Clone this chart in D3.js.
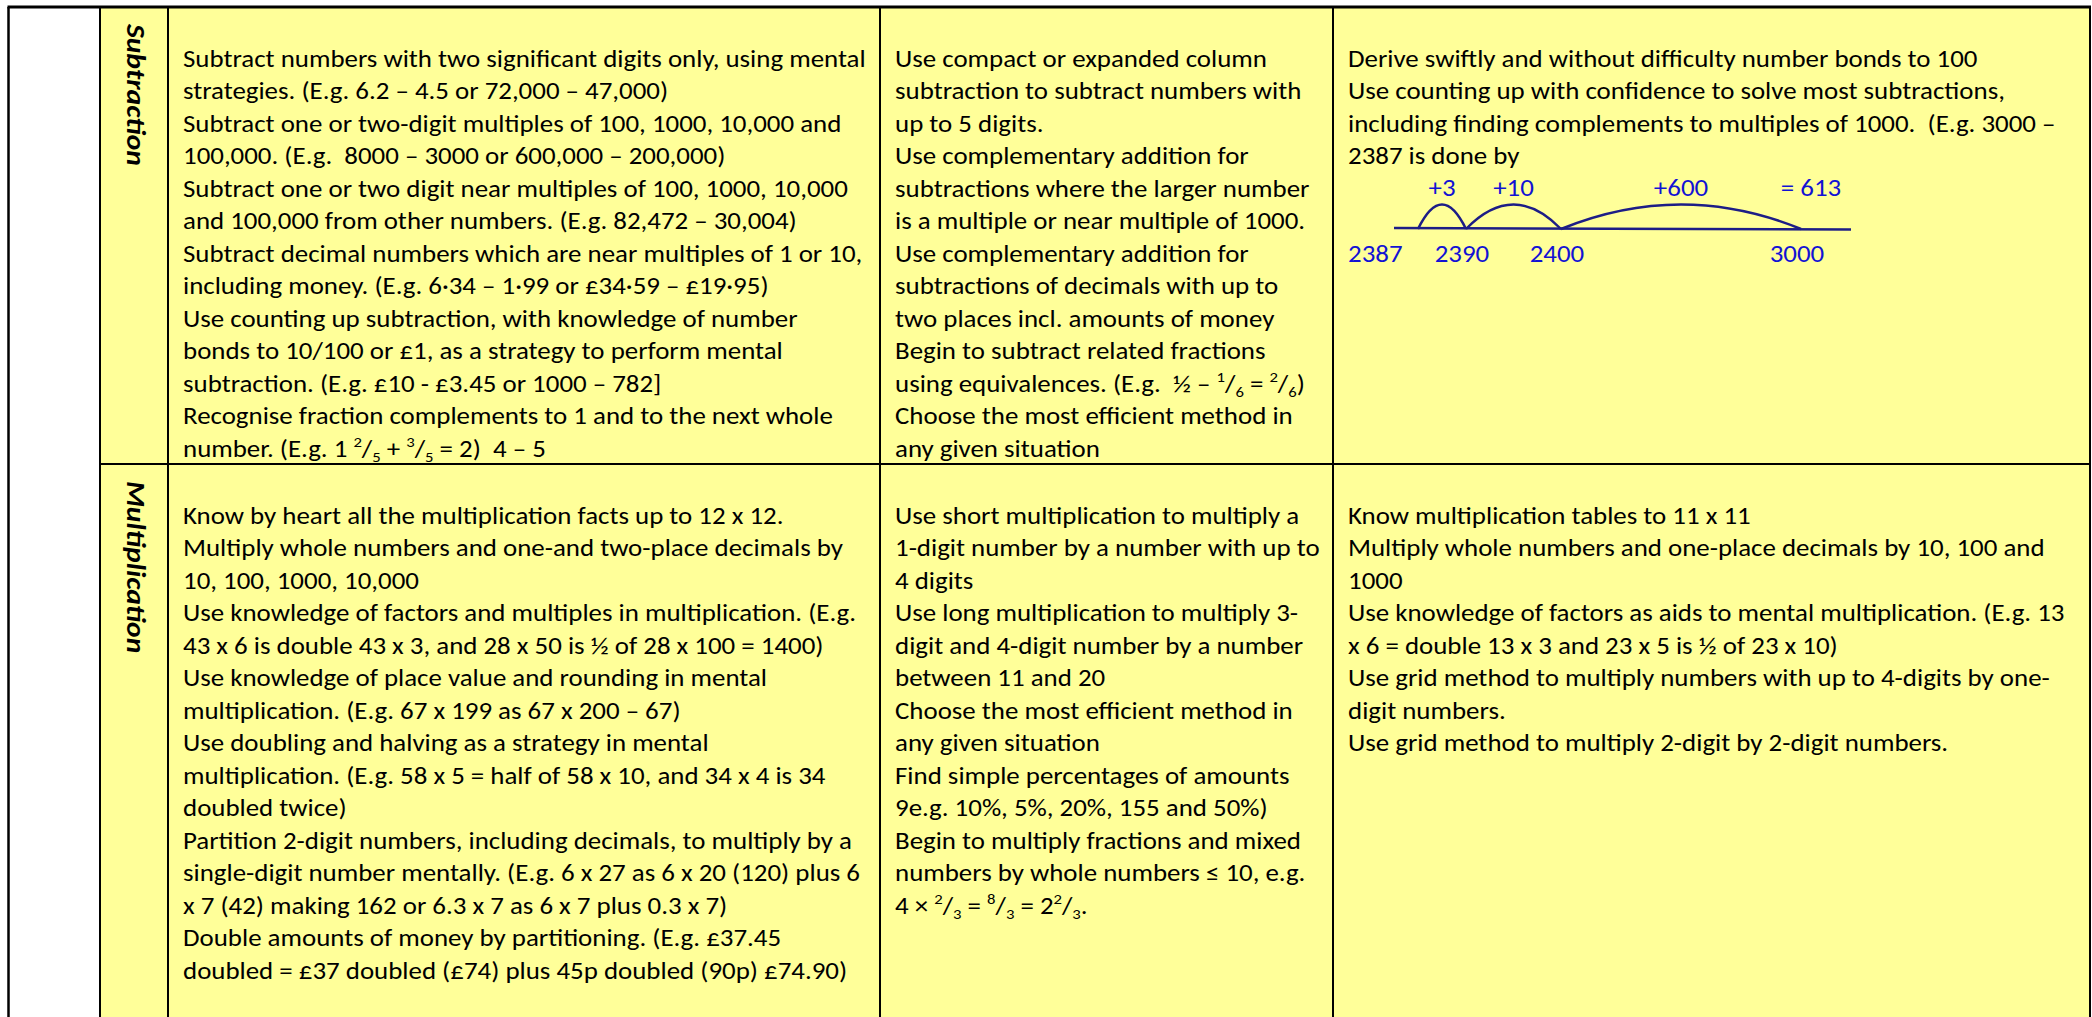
<!DOCTYPE html>
<html>
<head>
<meta charset="utf-8">
<script src="https://cdn.jsdelivr.net/npm/d3@7"></script>
<style>
body { margin: 0; background: #fff; }
svg { display: block; }
</style>
</head>
<body>
<div id="table"></div>
<script>
// row headings (rotated)
const strands = ["Subtraction", "Multiplication"];

// {^n} = superscript, {_n} = subscript
const subtractionA = [
  "Subtract numbers with two significant digits only, using mental",
  "strategies. (E.g. 6.2 – 4.5 or 72,000 – 47,000)",
  "Subtract one or two-digit multiples of 100, 1000, 10,000 and",
  "100,000. (E.g.  8000 – 3000 or 600,000 – 200,000)",
  "Subtract one or two digit near multiples of 100, 1000, 10,000",
  "and 100,000 from other numbers. (E.g. 82,472 – 30,004)",
  "Subtract decimal numbers which are near multiples of 1 or 10,",
  "including money. (E.g. 6·34 – 1·99 or £34·59 – £19·95)",
  "Use counting up subtraction, with knowledge of number",
  "bonds to 10/100 or £1, as a strategy to perform mental",
  "subtraction. (E.g. £10 - £3.45 or 1000 – 782]",
  "Recognise fraction complements to 1 and to the next whole",
  "number. (E.g. 1 {^2}/{_5} + {^3}/{_5} = 2)  4 – 5"
];
const subtractionB = [
  "Use compact or expanded column",
  "subtraction to subtract numbers with",
  "up to 5 digits.",
  "Use complementary addition for",
  "subtractions where the larger number",
  "is a multiple or near multiple of 1000.",
  "Use complementary addition for",
  "subtractions of decimals with up to",
  "two places incl. amounts of money",
  "Begin to subtract related fractions",
  "using equivalences. (E.g.  ½ – {^1}/{_6} = {^2}/{_6})",
  "Choose the most efficient method in",
  "any given situation"
];
const subtractionC = [
  "Derive swiftly and without difficulty number bonds to 100",
  "Use counting up with confidence to solve most subtractions,",
  "including finding complements to multiples of 1000.  (E.g. 3000 –",
  "2387 is done by"
];
const multiplicationA = [
  "Know by heart all the multiplication facts up to 12 x 12.",
  "Multiply whole numbers and one-and two-place decimals by",
  "10, 100, 1000, 10,000",
  "Use knowledge of factors and multiples in multiplication. (E.g.",
  "43 x 6 is double 43 x 3, and 28 x 50 is ½ of 28 x 100 = 1400)",
  "Use knowledge of place value and rounding in mental",
  "multiplication. (E.g. 67 x 199 as 67 x 200 – 67)",
  "Use doubling and halving as a strategy in mental",
  "multiplication. (E.g. 58 x 5 = half of 58 x 10, and 34 x 4 is 34",
  "doubled twice)",
  "Partition 2-digit numbers, including decimals, to multiply by a",
  "single-digit number mentally. (E.g. 6 x 27 as 6 x 20 (120) plus 6",
  "x 7 (42) making 162 or 6.3 x 7 as 6 x 7 plus 0.3 x 7)",
  "Double amounts of money by partitioning. (E.g. £37.45",
  "doubled = £37 doubled (£74) plus 45p doubled (90p) £74.90)"
];
const multiplicationB = [
  "Use short multiplication to multiply a",
  "1-digit number by a number with up to",
  "4 digits",
  "Use long multiplication to multiply 3-",
  "digit and 4-digit number by a number",
  "between 11 and 20",
  "Choose the most efficient method in",
  "any given situation",
  "Find simple percentages of amounts",
  "9e.g. 10%, 5%, 20%, 155 and 50%)",
  "Begin to multiply fractions and mixed",
  "numbers by whole numbers ≤ 10, e.g.",
  "4 × {^2}/{_3} = {^8}/{_3} = 2{^2}/{_3}."
];
const multiplicationC = [
  "Know multiplication tables to 11 x 11",
  "Multiply whole numbers and one-place decimals by 10, 100 and",
  "1000",
  "Use knowledge of factors as aids to mental multiplication. (E.g. 13",
  "x 6 = double 13 x 3 and 23 x 5 is ½ of 23 x 10)",
  "Use grid method to multiply numbers with up to 4-digits by one-",
  "digit numbers.",
  "Use grid method to multiply 2-digit by 2-digit numbers."
];

// counting-up number line (3000 - 2387)
const stops = [2387, 2390, 2400, 3000];
const jumps = ["+3", "+10", "+600"];
const total = "= 613";

const rows = [
  {strand: strands[0], cells: [subtractionA, subtractionB, subtractionC]},
  {strand: strands[1], cells: [multiplicationA, multiplicationB, multiplicationC]}
];

const width = 2092, height = 1017;
const colX = [8.5, 100, 168, 880, 1333, 2090];
const rowY = [7, 464, 1030];
const fs = 24.5, lineH = 32.5, pad = 15;
const font = "Calibri, Carlito, Lato, sans-serif";
const yellow = "#ffff99", blue = "#1212d4", navy = "#1d1d86";

const svg = d3.select("#table")
  .append("svg")
  .attr("width", width)
  .attr("height", height)
  .style("font-family", font)
  .style("font-size", fs + "px");

// write a line with small raised / lowered fraction parts
function addRich(text, str) {
  const parts = str.split(/(\{[\^_][^}]*\})/).filter(s => s.length);
  let shift = 0;
  parts.forEach(p => {
    let target = 0, small = false, s = p;
    if (p[0] === "{") {
      small = true;
      target = p[1] === "^" ? -0.42 : 0.2;
      s = p.slice(2, -1);
    }
    const t = text.append("tspan").text(s).attr("dy", ((target - shift) * fs) + "px");
    if (small) t.attr("font-size", (fs * 0.62) + "px");
    shift = target;
  });
}

// squeeze the stand-in font to Calibri-like widths
const probes = [
  ["Subtract numbers with two significant digits only, using mental", 695],
  ["subtractions where the larger number", 410],
  ["Use counting up with confidence to solve most subtractions,", 653]
];
const probe = svg.append("text").style("white-space", "pre");
const k = d3.mean(probes, d => {
  probe.text(d[0]);
  return d[1] / probe.node().getComputedTextLength();
});
probe.remove();

// cells
const bg = svg.append("g");
bg.append("rect")
  .attr("x", colX[0]).attr("y", rowY[0])
  .attr("width", colX[1] - colX[0]).attr("height", rowY[2] - rowY[0])
  .attr("fill", "#fff");
rows.forEach((row, r) => {
  bg.append("rect")
    .attr("x", colX[1]).attr("y", rowY[r])
    .attr("width", colX[5] - colX[1]).attr("height", rowY[r + 1] - rowY[r])
    .attr("fill", yellow);
});

// rows of text
rows.forEach((row, r) => {
  svg.append("text")
    .attr("transform", `translate(127,${rowY[r] + 17}) rotate(90) scale(${k},1)`)
    .attr("font-weight", "bold")
    .attr("font-style", "italic")
    .attr("font-size", (fs * 1.1) + "px")
    .text(row.strand);

  row.cells.forEach((lines, c) => {
    const g = svg.append("g")
      .attr("transform", `translate(${colX[c + 2] + pad},${rowY[r] + 60}) scale(${k},1)`);
    g.selectAll("text")
      .data(lines)
      .join("text")
      .attr("x", 0)
      .attr("y", (d, i) => i * lineH)
      .style("white-space", "pre")
      .each(function(d) { addRich(d3.select(this), d); });
  });
});

// number line in the subtraction cell
const nl = svg.append("g").attr("transform", `translate(${colX[4]},${rowY[0]})`);
const lineY = 221;
const x = d3.scaleLinear().domain(stops).range([85, 133, 228, 468]);

nl.append("line")
  .attr("x1", x(stops[0]) - 24).attr("x2", x(stops[3]) + 50)
  .attr("y1", lineY).attr("y2", lineY + 1.5)
  .attr("stroke", navy).attr("stroke-width", 2.5);

const hops = d3.pairs(stops).map((p, i) => ({a: p[0], b: p[1], label: jumps[i]}));
nl.selectAll("path.hop")
  .data(hops)
  .join("path")
  .attr("class", "hop")
  .attr("d", d => {
    const x0 = x(d.a), x1 = x(d.b), xm = (x0 + x1) / 2;
    return `M${x0},${lineY + 1}Q${xm},${lineY - 48} ${x1},${lineY + 1}`;
  })
  .attr("fill", "none")
  .attr("stroke", navy)
  .attr("stroke-width", 2.5);

const topLabels = hops.map(d => ({x: (x(d.a) + x(d.b)) / 2, t: d.label}))
  .concat([{x: x(stops[3]) + 10, t: total}]);
nl.selectAll("text.jump")
  .data(topLabels)
  .join("text")
  .attr("class", "jump")
  .attr("transform", d => `translate(${d.x},${lineY - 32}) scale(${k},1)`)
  .attr("text-anchor", "middle")
  .attr("fill", blue)
  .style("white-space", "pre")
  .text(d => d.t);

// first value sits at the cell margin, the rest under their stops
nl.selectAll("text.stop")
  .data(stops)
  .join("text")
  .attr("class", "stop")
  .attr("fill", blue)
  .attr("text-anchor", "middle")
  .text(d => d)
  .attr("transform", function(d, i) {
    const half = this.getComputedTextLength() * k / 2;
    const cx = i === 0 ? pad + half : x(d) - 4;
    return `translate(${cx},${lineY + 34}) scale(${k},1)`;
  });

// borders
const grid = svg.append("g").attr("stroke", "#000");
colX.forEach((cx, i) => {
  grid.append("line")
    .attr("x1", cx).attr("x2", cx)
    .attr("y1", rowY[0]).attr("y2", height + 5)
    .attr("stroke-width", i === 0 ? 2.5 : 2);
});
grid.append("line")
  .attr("x1", colX[0] - 1).attr("x2", colX[5] + 1)
  .attr("y1", rowY[0]).attr("y2", rowY[0])
  .attr("stroke-width", 3);
grid.append("line")
  .attr("x1", colX[1]).attr("x2", colX[5])
  .attr("y1", rowY[1]).attr("y2", rowY[1])
  .attr("stroke-width", 2);
</script>
</body>
</html>
